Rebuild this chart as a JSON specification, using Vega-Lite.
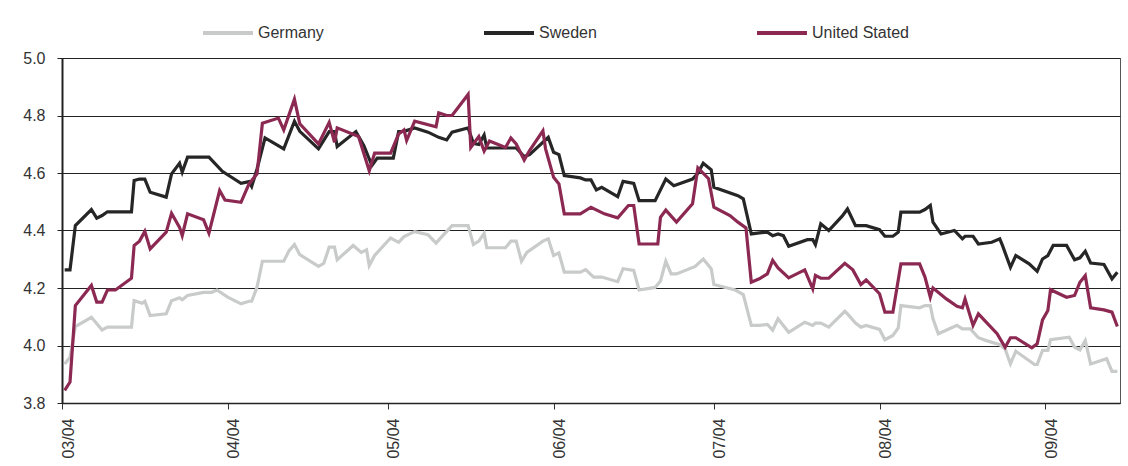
{
"$schema": "https://vega.github.io/schema/vega-lite/v6.json",
"width": 1058, "height": 345,
"autosize": {"type": "none"},
"padding": {"left": 62, "top": 58, "right": 8, "bottom": 63},
"background": "white",
"config": {"font": "Liberation Sans", "view": {"stroke": "#555", "strokeWidth": 1}},
"datasets": {
"rates": [
{"date":"2004-03-01T12:00","country":"Germany","yield":3.936},
{"date":"2004-03-02T12:00","country":"Germany","yield":3.959},
{"date":"2004-03-03T12:00","country":"Germany","yield":4.066},
{"date":"2004-03-06T12:00","country":"Germany","yield":4.098},
{"date":"2004-03-08T12:00","country":"Germany","yield":4.054},
{"date":"2004-03-09T12:00","country":"Germany","yield":4.064},
{"date":"2004-03-14T00:00","country":"Germany","yield":4.064},
{"date":"2004-03-14T12:00","country":"Germany","yield":4.156},
{"date":"2004-03-16T00:00","country":"Germany","yield":4.147},
{"date":"2004-03-16T12:00","country":"Germany","yield":4.154},
{"date":"2004-03-17T12:00","country":"Germany","yield":4.104},
{"date":"2004-03-20T12:00","country":"Germany","yield":4.110},
{"date":"2004-03-21T12:00","country":"Germany","yield":4.156},
{"date":"2004-03-23T00:00","country":"Germany","yield":4.166},
{"date":"2004-03-23T12:00","country":"Germany","yield":4.159},
{"date":"2004-03-24T12:00","country":"Germany","yield":4.174},
{"date":"2004-03-27T12:00","country":"Germany","yield":4.185},
{"date":"2004-03-29T00:00","country":"Germany","yield":4.185},
{"date":"2004-03-30T00:00","country":"Germany","yield":4.193},
{"date":"2004-04-01T00:00","country":"Germany","yield":4.168},
{"date":"2004-04-03T12:00","country":"Germany","yield":4.145},
{"date":"2004-04-05T00:00","country":"Germany","yield":4.154},
{"date":"2004-04-05T12:00","country":"Germany","yield":4.154},
{"date":"2004-04-06T12:00","country":"Germany","yield":4.203},
{"date":"2004-04-07T12:00","country":"Germany","yield":4.293},
{"date":"2004-04-11T12:00","country":"Germany","yield":4.293},
{"date":"2004-04-12T12:00","country":"Germany","yield":4.330},
{"date":"2004-04-13T12:00","country":"Germany","yield":4.351},
{"date":"2004-04-14T12:00","country":"Germany","yield":4.316},
{"date":"2004-04-18T00:00","country":"Germany","yield":4.275},
{"date":"2004-04-19T00:00","country":"Germany","yield":4.286},
{"date":"2004-04-20T00:00","country":"Germany","yield":4.342},
{"date":"2004-04-21T00:00","country":"Germany","yield":4.342},
{"date":"2004-04-21T12:00","country":"Germany","yield":4.298},
{"date":"2004-04-24T12:00","country":"Germany","yield":4.348},
{"date":"2004-04-26T00:00","country":"Germany","yield":4.324},
{"date":"2004-04-27T00:00","country":"Germany","yield":4.333},
{"date":"2004-04-27T12:00","country":"Germany","yield":4.278},
{"date":"2004-04-28T12:00","country":"Germany","yield":4.313},
{"date":"2004-05-01T12:00","country":"Germany","yield":4.374},
{"date":"2004-05-03T00:00","country":"Germany","yield":4.359},
{"date":"2004-05-04T00:00","country":"Germany","yield":4.379},
{"date":"2004-05-06T00:00","country":"Germany","yield":4.396},
{"date":"2004-05-08T12:00","country":"Germany","yield":4.385},
{"date":"2004-05-10T00:00","country":"Germany","yield":4.356},
{"date":"2004-05-11T00:00","country":"Germany","yield":4.377},
{"date":"2004-05-13T00:00","country":"Germany","yield":4.417},
{"date":"2004-05-16T00:00","country":"Germany","yield":4.417},
{"date":"2004-05-17T00:00","country":"Germany","yield":4.351},
{"date":"2004-05-18T00:00","country":"Germany","yield":4.363},
{"date":"2004-05-19T00:00","country":"Germany","yield":4.390},
{"date":"2004-05-19T12:00","country":"Germany","yield":4.340},
{"date":"2004-05-23T00:00","country":"Germany","yield":4.340},
{"date":"2004-05-24T00:00","country":"Germany","yield":4.363},
{"date":"2004-05-25T00:00","country":"Germany","yield":4.363},
{"date":"2004-05-26T00:00","country":"Germany","yield":4.293},
{"date":"2004-05-27T00:00","country":"Germany","yield":4.324},
{"date":"2004-05-30T00:00","country":"Germany","yield":4.363},
{"date":"2004-05-31T00:00","country":"Germany","yield":4.371},
{"date":"2004-06-01T00:00","country":"Germany","yield":4.313},
{"date":"2004-06-02T00:00","country":"Germany","yield":4.322},
{"date":"2004-06-03T00:00","country":"Germany","yield":4.255},
{"date":"2004-06-06T00:00","country":"Germany","yield":4.255},
{"date":"2004-06-07T00:00","country":"Germany","yield":4.264},
{"date":"2004-06-08T12:00","country":"Germany","yield":4.238},
{"date":"2004-06-10T00:00","country":"Germany","yield":4.238},
{"date":"2004-06-13T00:00","country":"Germany","yield":4.222},
{"date":"2004-06-14T00:00","country":"Germany","yield":4.267},
{"date":"2004-06-16T00:00","country":"Germany","yield":4.261},
{"date":"2004-06-17T00:00","country":"Germany","yield":4.193},
{"date":"2004-06-20T00:00","country":"Germany","yield":4.202},
{"date":"2004-06-21T00:00","country":"Germany","yield":4.224},
{"date":"2004-06-22T00:00","country":"Germany","yield":4.293},
{"date":"2004-06-23T00:00","country":"Germany","yield":4.249},
{"date":"2004-06-24T00:00","country":"Germany","yield":4.249},
{"date":"2004-06-27T12:00","country":"Germany","yield":4.275},
{"date":"2004-06-29T00:00","country":"Germany","yield":4.301},
{"date":"2004-06-30T12:00","country":"Germany","yield":4.267},
{"date":"2004-07-01T00:00","country":"Germany","yield":4.212},
{"date":"2004-07-05T00:00","country":"Germany","yield":4.193},
{"date":"2004-07-06T12:00","country":"Germany","yield":4.177},
{"date":"2004-07-08T00:00","country":"Germany","yield":4.070},
{"date":"2004-07-09T12:00","country":"Germany","yield":4.070},
{"date":"2004-07-11T00:00","country":"Germany","yield":4.073},
{"date":"2004-07-12T00:00","country":"Germany","yield":4.053},
{"date":"2004-07-13T00:00","country":"Germany","yield":4.093},
{"date":"2004-07-15T00:00","country":"Germany","yield":4.046},
{"date":"2004-07-18T00:00","country":"Germany","yield":4.081},
{"date":"2004-07-19T12:00","country":"Germany","yield":4.070},
{"date":"2004-07-20T00:00","country":"Germany","yield":4.078},
{"date":"2004-07-21T00:00","country":"Germany","yield":4.078},
{"date":"2004-07-22T12:00","country":"Germany","yield":4.064},
{"date":"2004-07-25T12:00","country":"Germany","yield":4.119},
{"date":"2004-07-26T00:00","country":"Germany","yield":4.110},
{"date":"2004-07-27T12:00","country":"Germany","yield":4.078},
{"date":"2004-07-28T12:00","country":"Germany","yield":4.064},
{"date":"2004-07-29T12:00","country":"Germany","yield":4.070},
{"date":"2004-08-01T00:00","country":"Germany","yield":4.056},
{"date":"2004-08-02T00:00","country":"Germany","yield":4.020},
{"date":"2004-08-03T12:00","country":"Germany","yield":4.035},
{"date":"2004-08-04T12:00","country":"Germany","yield":4.061},
{"date":"2004-08-05T00:00","country":"Germany","yield":4.139},
{"date":"2004-08-08T12:00","country":"Germany","yield":4.131},
{"date":"2004-08-09T12:00","country":"Germany","yield":4.139},
{"date":"2004-08-10T12:00","country":"Germany","yield":4.139},
{"date":"2004-08-11T00:00","country":"Germany","yield":4.093},
{"date":"2004-08-12T00:00","country":"Germany","yield":4.041},
{"date":"2004-08-15T12:00","country":"Germany","yield":4.070},
{"date":"2004-08-16T12:00","country":"Germany","yield":4.058},
{"date":"2004-08-18T00:00","country":"Germany","yield":4.058},
{"date":"2004-08-19T12:00","country":"Germany","yield":4.027},
{"date":"2004-08-21T00:00","country":"Germany","yield":4.017},
{"date":"2004-08-23T12:00","country":"Germany","yield":4.003},
{"date":"2004-08-24T12:00","country":"Germany","yield":3.988},
{"date":"2004-08-25T12:00","country":"Germany","yield":3.936},
{"date":"2004-08-26T12:00","country":"Germany","yield":3.980},
{"date":"2004-08-30T00:00","country":"Germany","yield":3.934},
{"date":"2004-08-30T12:00","country":"Germany","yield":3.934},
{"date":"2004-08-31T12:00","country":"Germany","yield":3.983},
{"date":"2004-09-01T12:00","country":"Germany","yield":3.983},
{"date":"2004-09-02T00:00","country":"Germany","yield":4.020},
{"date":"2004-09-05T12:00","country":"Germany","yield":4.029},
{"date":"2004-09-06T12:00","country":"Germany","yield":3.994},
{"date":"2004-09-07T12:00","country":"Germany","yield":3.985},
{"date":"2004-09-08T12:00","country":"Germany","yield":4.017},
{"date":"2004-09-09T12:00","country":"Germany","yield":3.936},
{"date":"2004-09-12T12:00","country":"Germany","yield":3.954},
{"date":"2004-09-13T12:00","country":"Germany","yield":3.910},
{"date":"2004-09-14T12:00","country":"Germany","yield":3.910},
{"date":"2004-03-01T12:00","country":"Sweden","yield":4.263},
{"date":"2004-03-02T12:00","country":"Sweden","yield":4.263},
{"date":"2004-03-03T12:00","country":"Sweden","yield":4.417},
{"date":"2004-03-06T12:00","country":"Sweden","yield":4.473},
{"date":"2004-03-07T12:00","country":"Sweden","yield":4.443},
{"date":"2004-03-08T12:00","country":"Sweden","yield":4.452},
{"date":"2004-03-09T12:00","country":"Sweden","yield":4.465},
{"date":"2004-03-14T00:00","country":"Sweden","yield":4.465},
{"date":"2004-03-14T12:00","country":"Sweden","yield":4.574},
{"date":"2004-03-15T12:00","country":"Sweden","yield":4.579},
{"date":"2004-03-16T12:00","country":"Sweden","yield":4.579},
{"date":"2004-03-17T12:00","country":"Sweden","yield":4.533},
{"date":"2004-03-20T12:00","country":"Sweden","yield":4.516},
{"date":"2004-03-21T12:00","country":"Sweden","yield":4.597},
{"date":"2004-03-23T00:00","country":"Sweden","yield":4.634},
{"date":"2004-03-23T12:00","country":"Sweden","yield":4.603},
{"date":"2004-03-24T12:00","country":"Sweden","yield":4.655},
{"date":"2004-03-28T12:00","country":"Sweden","yield":4.655},
{"date":"2004-03-31T00:00","country":"Sweden","yield":4.606},
{"date":"2004-04-01T00:00","country":"Sweden","yield":4.594},
{"date":"2004-04-03T12:00","country":"Sweden","yield":4.564},
{"date":"2004-04-05T00:00","country":"Sweden","yield":4.570},
{"date":"2004-04-05T12:00","country":"Sweden","yield":4.553},
{"date":"2004-04-06T12:00","country":"Sweden","yield":4.614},
{"date":"2004-04-08T00:00","country":"Sweden","yield":4.722},
{"date":"2004-04-11T12:00","country":"Sweden","yield":4.684},
{"date":"2004-04-13T12:00","country":"Sweden","yield":4.780},
{"date":"2004-04-14T12:00","country":"Sweden","yield":4.745},
{"date":"2004-04-18T00:00","country":"Sweden","yield":4.684},
{"date":"2004-04-20T00:00","country":"Sweden","yield":4.744},
{"date":"2004-04-21T00:00","country":"Sweden","yield":4.744},
{"date":"2004-04-21T12:00","country":"Sweden","yield":4.692},
{"date":"2004-04-25T00:00","country":"Sweden","yield":4.744},
{"date":"2004-04-26T12:00","country":"Sweden","yield":4.695},
{"date":"2004-04-28T00:00","country":"Sweden","yield":4.626},
{"date":"2004-04-29T00:00","country":"Sweden","yield":4.652},
{"date":"2004-05-02T00:00","country":"Sweden","yield":4.652},
{"date":"2004-05-03T00:00","country":"Sweden","yield":4.744},
{"date":"2004-05-04T00:00","country":"Sweden","yield":4.745},
{"date":"2004-05-06T00:00","country":"Sweden","yield":4.757},
{"date":"2004-05-08T12:00","country":"Sweden","yield":4.742},
{"date":"2004-05-10T12:00","country":"Sweden","yield":4.724},
{"date":"2004-05-12T00:00","country":"Sweden","yield":4.715},
{"date":"2004-05-13T00:00","country":"Sweden","yield":4.742},
{"date":"2004-05-16T00:00","country":"Sweden","yield":4.757},
{"date":"2004-05-17T00:00","country":"Sweden","yield":4.703},
{"date":"2004-05-18T00:00","country":"Sweden","yield":4.699},
{"date":"2004-05-19T00:00","country":"Sweden","yield":4.732},
{"date":"2004-05-19T12:00","country":"Sweden","yield":4.687},
{"date":"2004-05-25T00:00","country":"Sweden","yield":4.687},
{"date":"2004-05-26T12:00","country":"Sweden","yield":4.657},
{"date":"2004-05-27T12:00","country":"Sweden","yield":4.664},
{"date":"2004-05-31T00:00","country":"Sweden","yield":4.724},
{"date":"2004-06-01T00:00","country":"Sweden","yield":4.672},
{"date":"2004-06-02T00:00","country":"Sweden","yield":4.664},
{"date":"2004-06-03T00:00","country":"Sweden","yield":4.591},
{"date":"2004-06-06T00:00","country":"Sweden","yield":4.583},
{"date":"2004-06-07T00:00","country":"Sweden","yield":4.576},
{"date":"2004-06-08T00:00","country":"Sweden","yield":4.576},
{"date":"2004-06-09T00:00","country":"Sweden","yield":4.541},
{"date":"2004-06-10T00:00","country":"Sweden","yield":4.550},
{"date":"2004-06-13T00:00","country":"Sweden","yield":4.518},
{"date":"2004-06-14T00:00","country":"Sweden","yield":4.571},
{"date":"2004-06-16T00:00","country":"Sweden","yield":4.564},
{"date":"2004-06-17T00:00","country":"Sweden","yield":4.504},
{"date":"2004-06-20T00:00","country":"Sweden","yield":4.504},
{"date":"2004-06-22T00:00","country":"Sweden","yield":4.579},
{"date":"2004-06-23T12:00","country":"Sweden","yield":4.556},
{"date":"2004-06-27T00:00","country":"Sweden","yield":4.579},
{"date":"2004-06-28T00:00","country":"Sweden","yield":4.599},
{"date":"2004-06-29T00:00","country":"Sweden","yield":4.634},
{"date":"2004-06-30T12:00","country":"Sweden","yield":4.611},
{"date":"2004-07-01T00:00","country":"Sweden","yield":4.550},
{"date":"2004-07-05T12:00","country":"Sweden","yield":4.521},
{"date":"2004-07-06T12:00","country":"Sweden","yield":4.510},
{"date":"2004-07-08T00:00","country":"Sweden","yield":4.388},
{"date":"2004-07-09T12:00","country":"Sweden","yield":4.392},
{"date":"2004-07-11T00:00","country":"Sweden","yield":4.394},
{"date":"2004-07-12T00:00","country":"Sweden","yield":4.382},
{"date":"2004-07-13T00:00","country":"Sweden","yield":4.388},
{"date":"2004-07-14T00:00","country":"Sweden","yield":4.382},
{"date":"2004-07-15T00:00","country":"Sweden","yield":4.345},
{"date":"2004-07-18T12:00","country":"Sweden","yield":4.368},
{"date":"2004-07-19T12:00","country":"Sweden","yield":4.368},
{"date":"2004-07-20T00:00","country":"Sweden","yield":4.351},
{"date":"2004-07-21T00:00","country":"Sweden","yield":4.423},
{"date":"2004-07-22T12:00","country":"Sweden","yield":4.400},
{"date":"2004-07-25T00:00","country":"Sweden","yield":4.450},
{"date":"2004-07-26T00:00","country":"Sweden","yield":4.475},
{"date":"2004-07-27T12:00","country":"Sweden","yield":4.417},
{"date":"2004-07-29T12:00","country":"Sweden","yield":4.417},
{"date":"2004-08-01T00:00","country":"Sweden","yield":4.403},
{"date":"2004-08-02T00:00","country":"Sweden","yield":4.380},
{"date":"2004-08-03T12:00","country":"Sweden","yield":4.380},
{"date":"2004-08-04T12:00","country":"Sweden","yield":4.394},
{"date":"2004-08-05T00:00","country":"Sweden","yield":4.464},
{"date":"2004-08-08T12:00","country":"Sweden","yield":4.464},
{"date":"2004-08-09T12:00","country":"Sweden","yield":4.473},
{"date":"2004-08-10T12:00","country":"Sweden","yield":4.487},
{"date":"2004-08-11T00:00","country":"Sweden","yield":4.429},
{"date":"2004-08-12T12:00","country":"Sweden","yield":4.388},
{"date":"2004-08-15T00:00","country":"Sweden","yield":4.400},
{"date":"2004-08-16T12:00","country":"Sweden","yield":4.371},
{"date":"2004-08-17T00:00","country":"Sweden","yield":4.380},
{"date":"2004-08-18T12:00","country":"Sweden","yield":4.380},
{"date":"2004-08-19T12:00","country":"Sweden","yield":4.353},
{"date":"2004-08-22T00:00","country":"Sweden","yield":4.359},
{"date":"2004-08-23T12:00","country":"Sweden","yield":4.371},
{"date":"2004-08-24T00:00","country":"Sweden","yield":4.348},
{"date":"2004-08-25T12:00","country":"Sweden","yield":4.272},
{"date":"2004-08-26T12:00","country":"Sweden","yield":4.313},
{"date":"2004-08-29T00:00","country":"Sweden","yield":4.284},
{"date":"2004-08-30T12:00","country":"Sweden","yield":4.258},
{"date":"2004-08-31T12:00","country":"Sweden","yield":4.301},
{"date":"2004-09-01T12:00","country":"Sweden","yield":4.313},
{"date":"2004-09-02T12:00","country":"Sweden","yield":4.348},
{"date":"2004-09-05T00:00","country":"Sweden","yield":4.348},
{"date":"2004-09-06T12:00","country":"Sweden","yield":4.298},
{"date":"2004-09-07T12:00","country":"Sweden","yield":4.305},
{"date":"2004-09-08T12:00","country":"Sweden","yield":4.328},
{"date":"2004-09-09T12:00","country":"Sweden","yield":4.287},
{"date":"2004-09-12T00:00","country":"Sweden","yield":4.282},
{"date":"2004-09-13T12:00","country":"Sweden","yield":4.232},
{"date":"2004-09-14T12:00","country":"Sweden","yield":4.255},
{"date":"2004-03-01T12:00","country":"United Stated","yield":3.844},
{"date":"2004-03-02T12:00","country":"United Stated","yield":3.873},
{"date":"2004-03-03T12:00","country":"United Stated","yield":4.139},
{"date":"2004-03-06T12:00","country":"United Stated","yield":4.209},
{"date":"2004-03-07T12:00","country":"United Stated","yield":4.151},
{"date":"2004-03-08T12:00","country":"United Stated","yield":4.151},
{"date":"2004-03-09T12:00","country":"United Stated","yield":4.193},
{"date":"2004-03-11T00:00","country":"United Stated","yield":4.193},
{"date":"2004-03-14T00:00","country":"United Stated","yield":4.234},
{"date":"2004-03-14T12:00","country":"United Stated","yield":4.348},
{"date":"2004-03-15T12:00","country":"United Stated","yield":4.363},
{"date":"2004-03-16T12:00","country":"United Stated","yield":4.397},
{"date":"2004-03-17T12:00","country":"United Stated","yield":4.336},
{"date":"2004-03-20T12:00","country":"United Stated","yield":4.394},
{"date":"2004-03-21T12:00","country":"United Stated","yield":4.460},
{"date":"2004-03-23T00:00","country":"United Stated","yield":4.411},
{"date":"2004-03-23T12:00","country":"United Stated","yield":4.382},
{"date":"2004-03-24T12:00","country":"United Stated","yield":4.458},
{"date":"2004-03-27T12:00","country":"United Stated","yield":4.437},
{"date":"2004-03-28T12:00","country":"United Stated","yield":4.391},
{"date":"2004-03-30T12:00","country":"United Stated","yield":4.539},
{"date":"2004-03-31T12:00","country":"United Stated","yield":4.506},
{"date":"2004-04-03T12:00","country":"United Stated","yield":4.498},
{"date":"2004-04-05T00:00","country":"United Stated","yield":4.562},
{"date":"2004-04-06T12:00","country":"United Stated","yield":4.597},
{"date":"2004-04-07T12:00","country":"United Stated","yield":4.773},
{"date":"2004-04-10T12:00","country":"United Stated","yield":4.791},
{"date":"2004-04-11T12:00","country":"United Stated","yield":4.750},
{"date":"2004-04-13T12:00","country":"United Stated","yield":4.857},
{"date":"2004-04-14T12:00","country":"United Stated","yield":4.771},
{"date":"2004-04-18T00:00","country":"United Stated","yield":4.701},
{"date":"2004-04-20T00:00","country":"United Stated","yield":4.776},
{"date":"2004-04-21T00:00","country":"United Stated","yield":4.707},
{"date":"2004-04-21T12:00","country":"United Stated","yield":4.757},
{"date":"2004-04-25T12:00","country":"United Stated","yield":4.727},
{"date":"2004-04-27T12:00","country":"United Stated","yield":4.608},
{"date":"2004-04-28T12:00","country":"United Stated","yield":4.669},
{"date":"2004-05-01T12:00","country":"United Stated","yield":4.669},
{"date":"2004-05-03T00:00","country":"United Stated","yield":4.736},
{"date":"2004-05-04T00:00","country":"United Stated","yield":4.750},
{"date":"2004-05-04T12:00","country":"United Stated","yield":4.713},
{"date":"2004-05-06T00:00","country":"United Stated","yield":4.780},
{"date":"2004-05-10T00:00","country":"United Stated","yield":4.761},
{"date":"2004-05-10T12:00","country":"United Stated","yield":4.809},
{"date":"2004-05-12T00:00","country":"United Stated","yield":4.800},
{"date":"2004-05-13T00:00","country":"United Stated","yield":4.800},
{"date":"2004-05-16T00:00","country":"United Stated","yield":4.873},
{"date":"2004-05-16T12:00","country":"United Stated","yield":4.689},
{"date":"2004-05-18T00:00","country":"United Stated","yield":4.727},
{"date":"2004-05-19T00:00","country":"United Stated","yield":4.676},
{"date":"2004-05-20T00:00","country":"United Stated","yield":4.711},
{"date":"2004-05-23T00:00","country":"United Stated","yield":4.689},
{"date":"2004-05-24T00:00","country":"United Stated","yield":4.722},
{"date":"2004-05-25T00:00","country":"United Stated","yield":4.701},
{"date":"2004-05-26T12:00","country":"United Stated","yield":4.645},
{"date":"2004-05-27T12:00","country":"United Stated","yield":4.678},
{"date":"2004-05-30T00:00","country":"United Stated","yield":4.747},
{"date":"2004-05-30T12:00","country":"United Stated","yield":4.684},
{"date":"2004-06-01T00:00","country":"United Stated","yield":4.585},
{"date":"2004-06-02T00:00","country":"United Stated","yield":4.562},
{"date":"2004-06-03T00:00","country":"United Stated","yield":4.458},
{"date":"2004-06-06T00:00","country":"United Stated","yield":4.458},
{"date":"2004-06-08T00:00","country":"United Stated","yield":4.481},
{"date":"2004-06-10T12:00","country":"United Stated","yield":4.458},
{"date":"2004-06-13T00:00","country":"United Stated","yield":4.444},
{"date":"2004-06-15T00:00","country":"United Stated","yield":4.487},
{"date":"2004-06-16T00:00","country":"United Stated","yield":4.487},
{"date":"2004-06-17T00:00","country":"United Stated","yield":4.353},
{"date":"2004-06-20T12:00","country":"United Stated","yield":4.353},
{"date":"2004-06-21T00:00","country":"United Stated","yield":4.446},
{"date":"2004-06-22T00:00","country":"United Stated","yield":4.471},
{"date":"2004-06-24T00:00","country":"United Stated","yield":4.429},
{"date":"2004-06-27T00:00","country":"United Stated","yield":4.493},
{"date":"2004-06-28T00:00","country":"United Stated","yield":4.618},
{"date":"2004-06-30T00:00","country":"United Stated","yield":4.580},
{"date":"2004-07-01T00:00","country":"United Stated","yield":4.481},
{"date":"2004-07-04T00:00","country":"United Stated","yield":4.452},
{"date":"2004-07-05T12:00","country":"United Stated","yield":4.429},
{"date":"2004-07-07T00:00","country":"United Stated","yield":4.409},
{"date":"2004-07-08T00:00","country":"United Stated","yield":4.220},
{"date":"2004-07-09T12:00","country":"United Stated","yield":4.232},
{"date":"2004-07-11T00:00","country":"United Stated","yield":4.249},
{"date":"2004-07-12T00:00","country":"United Stated","yield":4.296},
{"date":"2004-07-13T00:00","country":"United Stated","yield":4.270},
{"date":"2004-07-15T00:00","country":"United Stated","yield":4.235},
{"date":"2004-07-18T00:00","country":"United Stated","yield":4.263},
{"date":"2004-07-19T12:00","country":"United Stated","yield":4.197},
{"date":"2004-07-20T00:00","country":"United Stated","yield":4.244},
{"date":"2004-07-21T00:00","country":"United Stated","yield":4.234},
{"date":"2004-07-22T12:00","country":"United Stated","yield":4.234},
{"date":"2004-07-25T12:00","country":"United Stated","yield":4.286},
{"date":"2004-07-27T00:00","country":"United Stated","yield":4.263},
{"date":"2004-07-28T12:00","country":"United Stated","yield":4.212},
{"date":"2004-07-29T12:00","country":"United Stated","yield":4.228},
{"date":"2004-08-01T00:00","country":"United Stated","yield":4.180},
{"date":"2004-08-02T00:00","country":"United Stated","yield":4.116},
{"date":"2004-08-03T12:00","country":"United Stated","yield":4.116},
{"date":"2004-08-05T00:00","country":"United Stated","yield":4.284},
{"date":"2004-08-08T12:00","country":"United Stated","yield":4.284},
{"date":"2004-08-09T12:00","country":"United Stated","yield":4.238},
{"date":"2004-08-10T12:00","country":"United Stated","yield":4.168},
{"date":"2004-08-11T00:00","country":"United Stated","yield":4.200},
{"date":"2004-08-13T12:00","country":"United Stated","yield":4.162},
{"date":"2004-08-15T12:00","country":"United Stated","yield":4.136},
{"date":"2004-08-16T12:00","country":"United Stated","yield":4.131},
{"date":"2004-08-17T00:00","country":"United Stated","yield":4.162},
{"date":"2004-08-18T12:00","country":"United Stated","yield":4.070},
{"date":"2004-08-19T12:00","country":"United Stated","yield":4.110},
{"date":"2004-08-23T00:00","country":"United Stated","yield":4.041},
{"date":"2004-08-24T12:00","country":"United Stated","yield":3.994},
{"date":"2004-08-25T12:00","country":"United Stated","yield":4.027},
{"date":"2004-08-26T12:00","country":"United Stated","yield":4.027},
{"date":"2004-08-29T12:00","country":"United Stated","yield":3.992},
{"date":"2004-08-30T12:00","country":"United Stated","yield":4.006},
{"date":"2004-08-31T12:00","country":"United Stated","yield":4.089},
{"date":"2004-09-01T12:00","country":"United Stated","yield":4.122},
{"date":"2004-09-02T00:00","country":"United Stated","yield":4.194},
{"date":"2004-09-05T00:00","country":"United Stated","yield":4.168},
{"date":"2004-09-06T12:00","country":"United Stated","yield":4.174},
{"date":"2004-09-07T12:00","country":"United Stated","yield":4.220},
{"date":"2004-09-08T12:00","country":"United Stated","yield":4.243},
{"date":"2004-09-09T12:00","country":"United Stated","yield":4.131},
{"date":"2004-09-12T00:00","country":"United Stated","yield":4.124},
{"date":"2004-09-13T12:00","country":"United Stated","yield":4.116},
{"date":"2004-09-14T12:00","country":"United Stated","yield":4.066}
]
},
"data": {"name": "rates"},
"mark": {"type": "line", "strokeWidth": 3.2},
"encoding": {
  "x": {
    "field": "date", "type": "temporal",
    "scale": {"domain": [{"year": 2004, "month": 3, "date": 1}, {"year": 2004, "month": 9, "date": 15}]},
    "axis": {
      "title": null, "grid": false,
      "tickCount": {"interval": "month", "step": 1},
      "format": "%m/%y", "labelAngle": 270,
      "labelFontSize": 16, "labelColor": "#333", "labelPadding": 9, "labelOffset": 6,
      "labelFlush": false, "labelOverlap": false,
      "tickSize": 6, "tickColor": "#333", "tickWidth": 1,
      "domainColor": "#222", "domainWidth": 1.5
    }
  },
  "y": {
    "field": "yield", "type": "quantitative",
    "scale": {"domain": [3.8, 5.0], "nice": false, "zero": false},
    "axis": {
      "title": null, "values": [3.8, 4.0, 4.2, 4.4, 4.6, 4.8, 5.0], "format": ".1f",
      "labelFontSize": 16, "labelColor": "#333", "labelPadding": 12,
      "tickSize": 5, "tickColor": "#222", "tickWidth": 1,
      "domainColor": "#222", "domainWidth": 2,
      "gridColor": "#222", "gridWidth": 1, "gridOpacity": 1
    }
  },
  "color": {
    "field": "country", "type": "nominal",
    "scale": {"domain": ["Germany", "Sweden", "United Stated"], "range": ["#c8cbca", "#262626", "#8c2952"]},
    "legend": {
      "title": null, "orient": "none", "legendX": 139, "legendY": -52,
      "direction": "horizontal", "symbolType": "stroke", "symbolSize": 2500,
      "symbolStrokeWidth": 4, "labelFontSize": 16, "labelColor": "#333",
      "labelOffset": 3, "columnPadding": 152, "padding": 0
    }
  }
}
}
